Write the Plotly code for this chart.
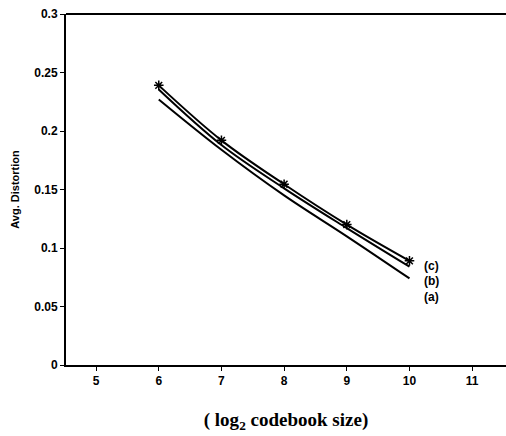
import plotly.graph_objects as go

x_vals = [6, 7, 8, 9, 10]
curve_a = [0.227, 0.184, 0.145, 0.110, 0.074]
curve_b = [0.2355, 0.188, 0.151, 0.117, 0.084]
curve_c = [0.239, 0.192, 0.1545, 0.120, 0.089]
labels = ["(c)", "(b)", "(a)"]
label_y = [0.0846, 0.0718, 0.058]
x_ticks = [5, 6, 7, 8, 9, 10, 11]
y_ticks = [0, 0.05, 0.1, 0.15, 0.2, 0.25, 0.3]

fig = go.Figure()
fig.add_trace(go.Scatter(x=x_vals, y=curve_a, mode="lines",
                         line=dict(color="black", width=2, shape="spline")))
fig.add_trace(go.Scatter(x=x_vals, y=curve_b, mode="lines",
                         line=dict(color="black", width=2, shape="spline")))
fig.add_trace(go.Scatter(x=x_vals, y=curve_c, mode="lines+markers",
                         line=dict(color="black", width=2, shape="spline"),
                         marker=dict(symbol="asterisk-open", size=8,
                                     line=dict(color="black", width=1.5))))

for t, yy in zip(labels, label_y):
    fig.add_annotation(x=10.2, y=yy, text=t, showarrow=False, xanchor="left",
                       font=dict(family="Liberation Sans", size=12, color="black", weight="bold"))

# top frame line (no right frame line in the reference)
fig.add_shape(type="line", xref="paper", yref="paper", x0=0, x1=1, y0=1, y1=1,
              line=dict(color="black", width=2))

fig.update_layout(
    width=506, height=436,
    margin=dict(l=66, r=0, t=14, b=71),
    plot_bgcolor="white", paper_bgcolor="white",
    showlegend=False,
    xaxis=dict(range=[4.52, 11.54], tickvals=x_ticks, showgrid=False, zeroline=False,
               showline=True, linecolor="black", linewidth=2,
               ticks="outside", ticklen=4, tickwidth=1, tickcolor="black",
               tickfont=dict(family="Liberation Sans", size=12, color="black", weight="bold"),
               title=dict(text="( log<sub>2</sub> codebook size)", standoff=25,
                          font=dict(family="Liberation Serif", size=19, color="black", weight="bold"))),
    yaxis=dict(range=[0, 0.3], tickvals=y_ticks, showgrid=False, zeroline=False,
               showline=True, linecolor="black", linewidth=2,
               ticks="outside", ticklen=4, tickwidth=1, tickcolor="black",
               tickfont=dict(family="Liberation Sans", size=12, color="black", weight="bold"),
               title=dict(text="Avg. Distortion", standoff=12,
                          font=dict(family="Liberation Sans", size=11, color="black", weight="bold"))),
)

fig.write_html("out.html")
